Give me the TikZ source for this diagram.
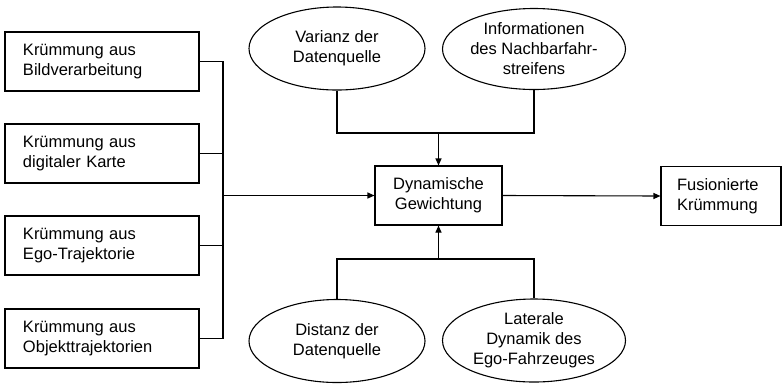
\documentclass[tikz,border=0pt]{standalone}
\usepackage{fontspec}
\setmainfont{Liberation Sans}
\usetikzlibrary{arrows.meta,shapes.geometric}
\begin{document}
\begin{tikzpicture}[x=1pt,y=-1pt,
  every node/.style={font=\fontsize{16.5}{20}\selectfont, line width=1.1pt},
  srcbox/.style={draw, rectangle, minimum width=194pt, minimum height=59pt, text width=158pt, inner xsep=18pt, inner ysep=0pt, align=left},
  midbox/.style={draw, rectangle, minimum width=127pt, minimum height=59pt, inner sep=0pt, align=center},
  outbox/.style={draw, rectangle, minimum width=120pt, minimum height=59pt, text width=88pt, inner xsep=16pt, inner ysep=0pt, align=left},
  factor/.style={draw, ellipse, minimum width=176pt, minimum height=83pt, inner sep=0pt, align=center},
  conn/.style={line width=1.1pt},
  arr/.style={conn, -{Triangle[length=7pt,width=6pt]}}]
\useasboundingbox (0,0) rectangle (782,384);
% source boxes
\node[srcbox] (b1) at (102,61.5) {Krümmung aus\\Bildverarbeitung};
\node[srcbox] (b2) at (102,153.5) {Krümmung aus\\digitaler Karte};
\node[srcbox] (b3) at (102,245.5) {Krümmung aus\\Ego-Trajektorie};
\node[srcbox] (b4) at (102,338.5) {Krümmung aus\\Objekttrajektorien};
% central boxes
\node[midbox] (c) at (438.5,195.5) {Dynamische\\Gewichtung};
\node[outbox] (f) at (721,196) {Fusionierte\\Krümmung};
% ellipses
\node[factor] (v) at (337,48.5) {Varianz der\\Datenquelle};
\node[factor, minimum width=183pt, minimum height=81pt] (i) at (534,49) {Informationen\\des Nachbarfahr-\\streifens};
\node[factor] (d) at (337,341) {Distanz der\\Datenquelle};
\node[factor, minimum width=183pt] (l) at (534,340.5) {Laterale\\Dynamik des\\Ego-Fahrzeuges};
% junction coordinates
\coordinate (bx) at (223,0);
\coordinate (tj) at (438.5,133);
\coordinate (bj) at (438.5,259);
% left bus
\draw[conn] (b1.east) -- (b1.east -| bx) -- (b4.east -| bx) -- (b4.east);
\draw[conn] (b2.east) -- (b2.east -| bx);
\draw[conn] (b3.east) -- (b3.east -| bx);
\draw[arr] (bx |- c.west) -- (c.west);
% top
\draw[conn] (v.south) |- (tj) -| (i.south);
\draw[arr] (tj) -- (c.north);
% bottom
\draw[conn] (d.north) |- (bj) -| (l.north);
\draw[arr] (bj) -- (c.south);
% output
\draw[arr] (c.east) -- (f.west);
\end{tikzpicture}
\end{document}
